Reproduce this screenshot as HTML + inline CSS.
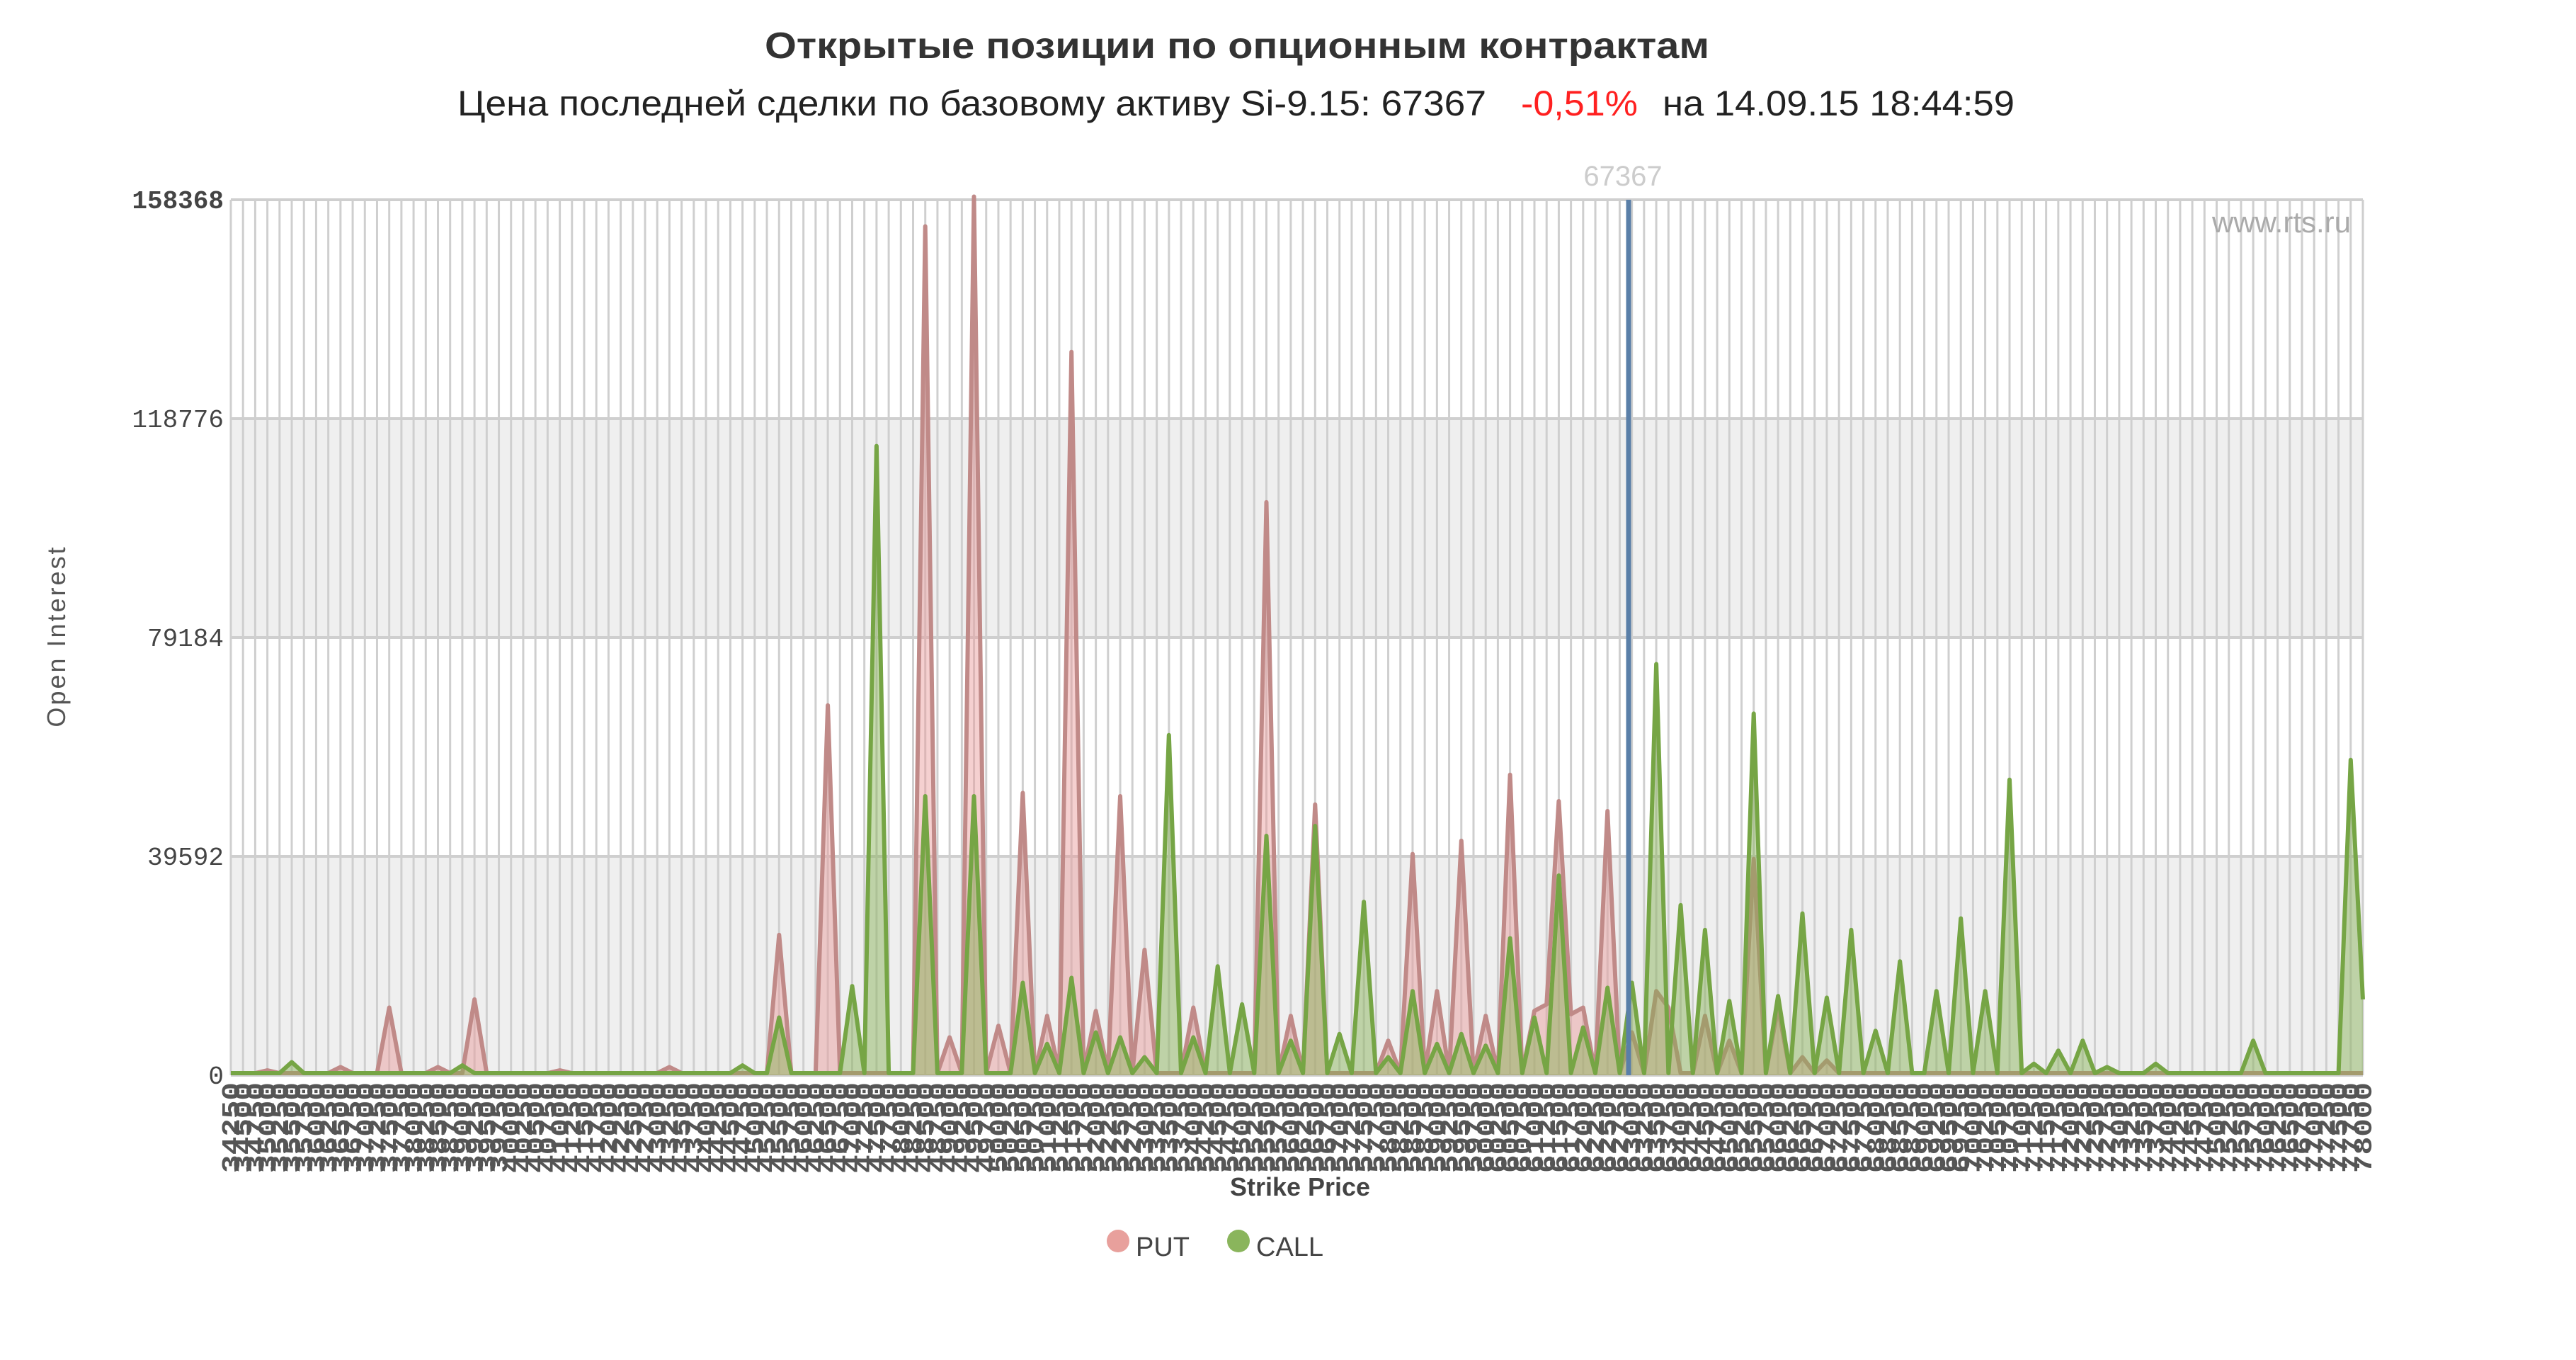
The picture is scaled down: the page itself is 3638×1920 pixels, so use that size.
<!DOCTYPE html>
<html><head><meta charset="utf-8"><style>
html,body{margin:0;padding:0;background:#fff;}
svg{display:block;}
</style></head><body>
<svg id="s" width="3638" height="1920" xmlns="http://www.w3.org/2000/svg" font-family="Liberation Sans, sans-serif">
<rect width="3638" height="1920" fill="#fff"/>
<g id="bg"></g>
<g id="series"></g>
<g id="xl"></g>
<text x="1747" y="82" font-size="52" font-weight="bold" fill="#333" text-anchor="middle" textLength="1334" lengthAdjust="spacingAndGlyphs">Открытые позиции по опционным контрактам</text>
<text x="646" y="163" font-size="50" fill="#222" textLength="1453" lengthAdjust="spacingAndGlyphs">Цена последней сделки по базовому активу Si-9.15: 67367</text>
<text x="2148" y="163" font-size="50" fill="#ff2020" textLength="165" lengthAdjust="spacingAndGlyphs">-0,51%</text>
<text x="2348" y="163" font-size="50" fill="#222" textLength="497" lengthAdjust="spacingAndGlyphs">на 14.09.15 18:44:59</text>
<text x="2292" y="262" font-size="40" fill="#ccc" text-anchor="middle">67367</text>
<text x="3320" y="328" font-size="42" fill="#aaa" text-anchor="end">www.rts.ru</text>
<g font-family="Liberation Mono, monospace" font-size="36" fill="#444" text-anchor="end">
<text x="316" y="294" font-weight="bold">158368</text>
<text x="316" y="603">118776</text>
<text x="316" y="912">79184</text>
<text x="316" y="1221">39592</text>
<text x="316" y="1530">0</text>
</g>
<text transform="translate(92,898) rotate(-90)" font-size="36" fill="#555" text-anchor="middle" letter-spacing="3">Open Interest</text>
<text x="1836" y="1688" font-size="36" font-weight="bold" fill="#444" text-anchor="middle">Strike Price</text>
<circle cx="1579" cy="1752" r="16" fill="#e8a09c"/>
<text x="1604" y="1773" font-size="38" fill="#444">PUT</text>
<circle cx="1749" cy="1752" r="16" fill="#8ab55c"/>
<text x="1774" y="1773" font-size="38" fill="#444">CALL</text>
</svg>
<script>
var NS="http://www.w3.org/2000/svg";
function el(p,t,a){var e=document.createElementNS(NS,t);for(var k in a)e.setAttribute(k,a[k]);p.appendChild(e);return e;}
var L=326,R=3337,T=282,B=1518;
var bg=document.getElementById('bg');
var bh=(B-T)/4;
for(var i=0;i<4;i++){el(bg,'rect',{x:L,y:T+i*bh,width:R-L,height:bh,fill:(i%2?'#efefef':'#fff')});}
var N=176,dx=(R-L)/(N-1);
for(var i=0;i<N;i++){var x=L+i*dx;el(bg,'line',{x1:x,y1:T,x2:x,y2:B,stroke:'#cfcfcf','stroke-width':3});}
for(var i=0;i<5;i++){var y=T+i*bh;el(bg,'line',{x1:L,y1:y,x2:R,y2:y,stroke:'#cfcfcf','stroke-width':4});}
var S=2.332;
function mk(pk){var v=new Array(N).fill(B-3);pk.forEach(function(p){var xo=p[0]*S;var xn=L+(xo-L)*(R-L)/(3354-L);var i=Math.round((xn-L)/dx);if(i<0)i=0;if(i>=N)i=N-1;v[i]=p[1]*S;});return v;}
var put=mk([[160,648],[208,646],[238,610],[268,646],[291,605],[338,648],[410,646],[470,566],[500,427],[560,137],[575,628],[590,119],[605,621],[620,480],[635,615],[650,213],[665,612],[680,482],[695,575],[725,610],[770,304],[785,615],[800,487],[845,630],[860,517],[875,600],[890,509],[905,615],[920,469],[935,612],[942,608],[950,485],[958,614],[965,610],[980,491],[995,625],[1010,600],[1018,610],[1040,615],[1055,630],[1070,520],[1085,610],[1100,640],[1115,642]]);
var call=mk([[178,643],[282,645],[455,645],[470,616],[515,597],[530,270],[560,482],[590,482],[620,595],[635,632],[650,592],[665,625],[680,628],[695,640],[710,445],[725,628],[740,585],[755,608],[770,506],[785,630],[800,500],[815,626],[830,546],[845,640],[860,600],[875,632],[890,626],[905,633],[920,568],[935,616],[950,530],[965,622],[980,598],[995,595],[1010,402],[1025,548],[1040,563],[1055,606],[1070,432],[1085,603],[1100,553],[1115,604],[1130,563],[1145,624],[1160,582],[1175,600],[1190,556],[1205,600],[1220,472],[1235,644],[1250,636],[1265,630],[1280,646],[1310,644],[1370,630],[1430,460],[1438,605]]);
var g=document.getElementById('series');
function draw(v,fill,stroke){var d='M'+L+','+B;var pts='';for(var i=0;i<N;i++){var x=L+i*dx;d+=' L'+x.toFixed(1)+','+v[i].toFixed(1);pts+=(i?' L':'M')+x.toFixed(1)+','+v[i].toFixed(1);}d+=' L'+R+','+B+' Z';
el(g,'path',{d:d,fill:fill});el(g,'path',{d:pts,fill:'none',stroke:stroke,'stroke-width':6,'stroke-linejoin':'round'});}
draw(put,'rgba(232,150,150,0.45)','#c08a88');
draw(call,'rgba(130,175,80,0.45)','#76a545');
el(g,'line',{x1:2300,y1:T,x2:2300,y2:B,stroke:'#5a7fa8','stroke-width':7});
var xl=document.getElementById('xl');
for(var i=0;i<N;i++){var x=L+i*dx;var t=el(xl,'text',{transform:'translate('+(x+12).toFixed(1)+',1528) rotate(-90)','font-size':'36','font-family':'Liberation Mono, monospace','font-weight':'bold',fill:'#555','text-anchor':'end',textLength:'128',lengthAdjust:'spacingAndGlyphs'});t.textContent=String(34250+i*250);}
</script>
</body></html>
